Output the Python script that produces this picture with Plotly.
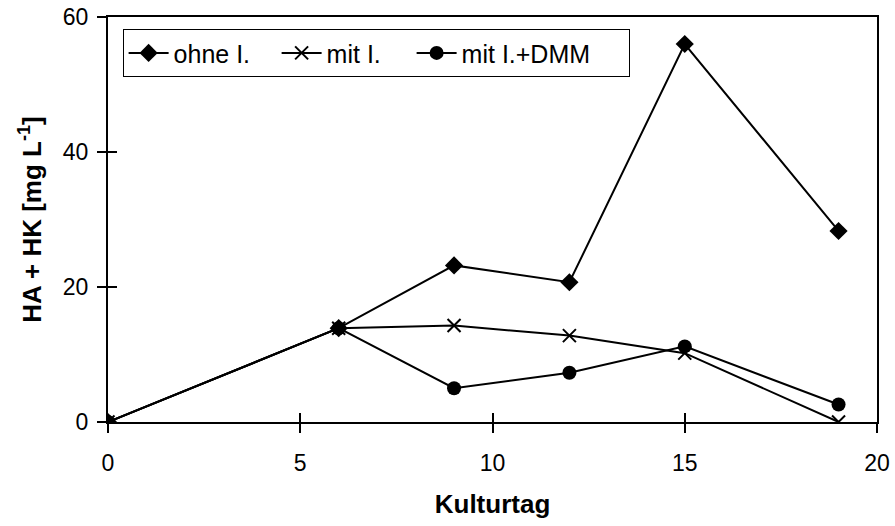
import plotly.graph_objects as go

days = [0, 6, 9, 12, 15, 19]
ohne_i = [0, 13.9, 23.2, 20.7, 56.0, 28.3]
mit_i = [0, 13.9, 14.3, 12.8, 10.2, 0]
mit_i_dmm = [0, 13.9, 5.0, 7.3, 11.2, 2.6]

series_names = ["ohne I.", "mit I.", "mit I.+DMM"]
x_ticks = [0, 5, 10, 15, 20]
y_ticks = [0, 20, 40, 60]

FONT = "Arial, Liberation Sans, sans-serif"

fig = go.Figure()
fig.add_trace(go.Scatter(x=days, y=ohne_i, name=series_names[0], mode="lines+markers",
                         line=dict(color="black", width=2), legendwidth=98,
                         marker=dict(symbol="diamond", size=14, color="black")))
fig.add_trace(go.Scatter(x=days, y=mit_i, name=series_names[1], mode="lines+markers",
                         line=dict(color="black", width=2), legendwidth=80,
                         marker=dict(symbol="x-thin", size=13, color="black",
                                     line=dict(color="black", width=2))))
fig.add_trace(go.Scatter(x=days, y=mit_i_dmm, name=series_names[2], mode="lines+markers",
                         line=dict(color="black", width=2), legendwidth=162,
                         marker=dict(symbol="circle", size=14, color="black")))
# helper trace for the inner half of the crossing ticks
fig.add_trace(go.Scatter(x=[], y=[], xaxis="x2", yaxis="y2", showlegend=False, hoverinfo="skip"))

tick_common = dict(showgrid=False, zeroline=False, linecolor="black", linewidth=2,
                   tickcolor="black", tickwidth=2, ticklen=9, automargin=False,
                   ticklabeloverflow="allow")

fig.update_layout(
    width=895, height=526,
    margin=dict(l=108, r=18, t=17, b=104),
    paper_bgcolor="white", plot_bgcolor="white",
    font=dict(family=FONT, size=23, color="black"),
    xaxis=dict(range=[0, 20], tickvals=x_ticks, ticks="outside", mirror=True, showline=True,
               ticklabelstandoff=10,
               title=dict(text="<b>Kulturtag</b>", font=dict(size=26), standoff=20),
               **tick_common),
    yaxis=dict(range=[0, 60], tickvals=y_ticks, ticks="outside", mirror=True, showline=True,
               ticklabelstandoff=4,
               title=dict(text="<b>HA + HK [mg L<sup>-1</sup>]</b>", font=dict(size=26), standoff=14),
               **tick_common),
    xaxis2=dict(range=[0, 20], tickvals=x_ticks, ticks="inside", overlaying="x", anchor="y2",
                side="bottom", showticklabels=False, showline=False, **tick_common),
    yaxis2=dict(range=[0, 60], tickvals=y_ticks, ticks="inside", overlaying="y", anchor="x2",
                side="left", showticklabels=False, showline=False, **tick_common),
    legend=dict(orientation="h", x=0.019, y=0.97, xanchor="left", yanchor="top",
                bordercolor="black", borderwidth=1, bgcolor="white",
                font=dict(size=25), itemwidth=40, tracegroupgap=0),
    showlegend=True,
)

fig.write_html("out.html", config={"displayModeBar": False},
               post_script="document.body.style.margin='0';document.body.style.overflow='hidden';")
